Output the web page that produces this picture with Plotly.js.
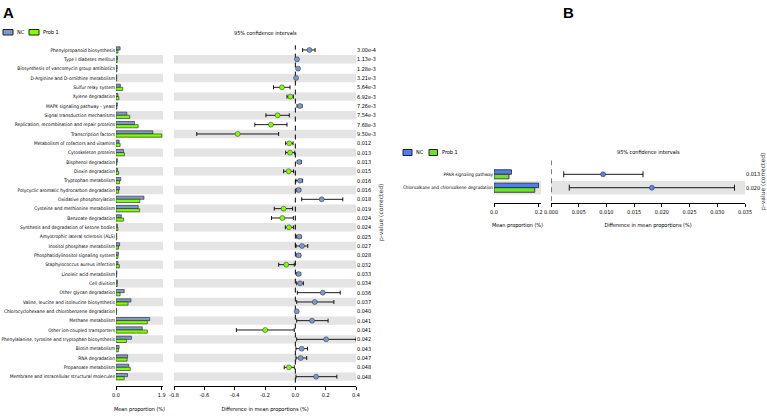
<!DOCTYPE html>
<html><head><meta charset="utf-8">
<script src="https://cdn.plot.ly/plotly-3.0.1.min.js"></script>
<style>html,body{margin:0;padding:0;background:#fff}#c{width:767px;height:417px}</style>
</head><body><div id="c"></div>
<script>
// ---------- Panel A data ----------
const seriesNames = ['NC', 'Prob 1'];
const labelsA = ['Phenylpropanoid biosynthesis','Type I diabetes mellitus','Biosynthesis of vancomycin group antibiotics','D-Arginine and D-ornithine metabolism','Sulfur relay system','Xylene degradation','MAPK signaling pathway - yeast','Signal transduction mechanisms','Replication, recombination and repair proteins','Transcription factors','Metabolism of cofactors and vitamins','Cytoskeleton proteins','Bisphenol degradation','Dioxin degradation','Tryptophan metabolism','Polycyclic aromatic hydrocarbon degradation','Oxidative phosphorylation','Cysteine and methionine metabolism','Benzoate degradation','Synthesis and degradation of ketone bodies','Amyotrophic lateral sclerosis (ALS)','Inositol phosphate metabolism','Phosphatidylinositol signaling system','Staphylococcus aureus infection','Linoleic acid metabolism','Cell division','Other glycan degradation','Valine, leucine and isoleucine biosynthesis','Chlorocyclohexane and chlorobenzene degradation','Methane metabolism','Other ion-coupled transporters','Phenylalanine, tyrosine and tryptophan biosynthesis','Biotin metabolism','RNA degradation','Propanoate metabolism','Membrane and intracellular structural molecules'];
const pvalA = ['3.00e-4','1.13e-3','1.28e-3','3.21e-3','5.64e-3','6.92e-3','7.26e-3','7.54e-3','7.68e-3','9.50e-3','0.012','0.013','0.013','0.015','0.016','0.016','0.018','0.019','0.024','0.024','0.025','0.027','0.028','0.032','0.033','0.034','0.036','0.037','0.040','0.041','0.041','0.042','0.043','0.047','0.048','0.048'];
const ncA    = [0.17,0.06,0.05,0.03,0.18,0.08,0.06,0.45,0.77,1.53,0.13,0.31,0.06,0.06,0.20,0.14,1.16,0.92,0.22,0.06,0.03,0.15,0.10,0.08,0.04,0.06,0.34,0.62,0.02,1.40,1.09,0.64,0.13,0.48,0.53,0.48];
const prob1A = [0.08,0.05,0.04,0.03,0.28,0.12,0.04,0.57,0.92,1.90,0.17,0.35,0.04,0.11,0.15,0.11,0.99,0.98,0.31,0.08,0.03,0.10,0.08,0.14,0.03,0.05,0.17,0.50,0.02,1.30,1.30,0.43,0.10,0.46,0.59,0.34];
const diffA  = [0.093,0.011,0.018,0.005,-0.088,-0.033,0.031,-0.117,-0.161,-0.380,-0.040,-0.035,0.026,-0.044,0.031,0.022,0.174,-0.077,-0.086,-0.042,0.026,0.044,0.022,-0.060,0.022,0.031,0.181,0.128,0.009,0.110,-0.199,0.203,0.042,0.035,-0.042,0.137];
const lowA   = [0.048,0.004,0.010,0.001,-0.144,-0.055,0.011,-0.194,-0.267,-0.650,-0.064,-0.064,0.013,-0.077,0.004,0.009,0.042,-0.139,-0.157,-0.066,0.009,0.004,0.009,-0.110,0.009,0.009,0.013,0.009,0.002,0.009,-0.389,0.009,0.004,0.004,-0.073,0.004];
const highA  = [0.130,0.018,0.026,0.009,-0.035,-0.013,0.044,-0.040,-0.055,-0.110,-0.015,-0.004,0.040,-0.011,0.048,0.035,0.313,-0.018,-0.013,-0.011,0.038,0.082,0.035,-0.007,0.035,0.053,0.296,0.254,0.015,0.216,-0.007,0.400,0.080,0.075,-0.007,0.274];
const barTicksA = [0, 1.9], barTickTextA = ['0.0','1.9'];
const ciTicksA = [-0.8,-0.6,-0.4,-0.2,0.0,0.2,0.4], ciTickTextA = ['-0.8','-0.6','-0.4','-0.2','0.0','0.2','0.4'];

// ---------- Panel B data ----------
const labelsB = ['PPAR signaling pathway','Chloroalkane and chloroalkene degradation'];
const pvalB = ['0.013','0.020'];
const ncB = [0.078, 0.199];
const prob1B = [0.067, 0.182];
const diffB = [0.0094, 0.0182];
const lowB = [0.0023, 0.0033];
const highB = [0.0166, 0.0331];
const barTicksB = [0, 0.2], barTickTextB = ['0.0','0.2'];
const ciTicksB = [0,0.005,0.010,0.015,0.020,0.025,0.030,0.035];
const ciTickTextB = ['0.000','0.005','0.010','0.015','0.020','0.025','0.030','0.035'];

// ---------- styling ----------
const W = 767, H = 417;
const fx = p => p / W, fy = p => 1 - p / H;
const F = 'Liberation Sans Narrow, DejaVu Sans Condensed, Liberation Sans, sans-serif';
const colA = ['#7d99cc', '#7fff00'];
const colB = ['#4f80ea', '#6be32a'];
const idxA = labelsA.map((_, i) => i);
const idxB = labelsB.map((_, i) => i);

const traces = [];
[ncA, prob1A].forEach((vals, k) => traces.push({
  type:'bar', orientation:'h', x: vals, y: idxA, name: seriesNames[k], xaxis:'x', yaxis:'y',
  marker:{color: colA[k], line:{color:'#222', width:0.6}}, hoverinfo:'x'
}));
traces.push({
  type:'scatter', mode:'markers', x: diffA, y: idxA, xaxis:'x2', yaxis:'y2',
  marker:{symbol:'circle', size:5, color: diffA.map(d => d >= 0 ? colA[0] : colA[1]), line:{color:'#333', width:0.5}},
  error_x:{type:'data', symmetric:false, array: highA.map((h,i)=>h-diffA[i]), arrayminus: lowA.map((l,i)=>diffA[i]-l), color:'#000', thickness:0.9, width:2}
});
[ncB, prob1B].forEach((vals, k) => traces.push({
  type:'bar', orientation:'h', x: vals, y: idxB, name: seriesNames[k], xaxis:'x3', yaxis:'y3',
  marker:{color: colB[k], line:{color:'#222', width:0.8}}, hoverinfo:'x'
}));
traces.push({
  type:'scatter', mode:'markers', x: diffB, y: idxB, xaxis:'x4', yaxis:'y4',
  marker:{symbol:'circle', size:5, color: diffB.map(d => d >= 0 ? '#5b82e6' : colB[1]), line:{color:'#333', width:0.5}},
  error_x:{type:'data', symmetric:false, array: highB.map((h,i)=>h-diffB[i]), arrayminus: lowB.map((l,i)=>diffB[i]-l), color:'#000', thickness:0.9, width:3}
});

const xBase = {showgrid:false, zeroline:false, showline:true, linecolor:'#000', linewidth:1, ticks:'outside', ticklen:3, tickcolor:'#000', tickfont:{size:5.5, family:F}, fixedrange:true};
const yBase = {showgrid:false, zeroline:false, showline:false, ticks:'', tickfont:{size:5.5, family:F}, fixedrange:true};

const rowsA = [36, -0.5];
const domA = [fy(386), fy(45.3)];
const rowsB = [2.14, -0.5];
const domB = [fy(203), fy(167.6)];

const shapes = [];
idxA.filter(i => i % 2 === 1).forEach(i => {
  ['x','x2'].forEach((xa, j) => shapes.push({type:'rect', xref: xa+' domain', yref: j===0?'y':'y2', x0:0, x1:1, y0:i-0.45, y1:i+0.45, fillcolor:'#e4e4e4', line:{width:0}, layer:'below'}));
});
idxB.filter(i => i % 2 === 1).forEach(i => {
  ['x3','x4'].forEach((xa, j) => shapes.push({type:'rect', xref: xa+' domain', yref: j===0?'y3':'y4', x0:0, x1:1, y0:i-0.5, y1:i+0.5, fillcolor:'#e4e4e4', line:{width:0}, layer:'below'}));
});
shapes.push({type:'line', xref:'x2', yref:'y2 domain', x0:0, x1:0, y0:0.01, y1:1, line:{color:'#000', width:1, dash:'5px,4px'}, layer:'below'});
shapes.push({type:'line', xref:'x4', yref:'y4 domain', x0:0, x1:0, y0:0.05, y1:1.2, line:{color:'#000', width:1, dash:'5px,4px'}, layer:'below'});
const legA = [[3,13,29.5,35],[29,39,29.5,35]];
const legB = [[403,412,149.5,155.5],[429,437.5,149.5,155.5]];
legA.forEach((b,k)=>shapes.push({type:'rect', xref:'paper', yref:'paper', x0:fx(b[0]), x1:fx(b[1]), y0:fy(b[3]), y1:fy(b[2]), fillcolor:colA[k], line:{color:'#222', width:1}}));
legB.forEach((b,k)=>shapes.push({type:'rect', xref:'paper', yref:'paper', x0:fx(b[0]), x1:fx(b[1]), y0:fy(b[3]), y1:fy(b[2]), fillcolor:colB[k], line:{color:'#222', width:1}}));

const ann = (x, y, text, opts) => Object.assign({xref:'paper', yref:'paper', x: fx(x), y: fy(y), text, showarrow:false, font:{family:F, size:5.5, color:'#000'}, xanchor:'center', yanchor:'middle'}, opts||{});
const annotations = [
  ann(8, 12, '<b>A</b>', {font:{family:'Liberation Sans, Arial, sans-serif', size:15, color:'#000'}}),
  ann(568, 12, '<b>B</b>', {font:{family:'Liberation Sans, Arial, sans-serif', size:15, color:'#000'}}),
  ann(15, 32.5, seriesNames[0], {xanchor:'left'}),
  ann(41, 32.5, seriesNames[1], {xanchor:'left'}),
  ann(414, 152.5, seriesNames[0], {xanchor:'left'}),
  ann(440, 152.5, seriesNames[1], {xanchor:'left'}),
  ann(265, 33, '95% confidence intervals'),
  ann(648, 152, '95% confidence intervals'),
  ann(381, 213, 'p-value (corrected)', {textangle:-90, font:{family:'DejaVu Sans, sans-serif', size:6, color:'#333'}}),
  ann(763, 182, 'p-value (corrected)', {textangle:-90, font:{family:'DejaVu Sans, sans-serif', size:6, color:'#333'}})
];

const layout = {
  width: W, height: H, margin:{l:0, r:0, t:0, b:0, pad:0},
  paper_bgcolor:'#fff', plot_bgcolor:'rgba(0,0,0,0)', showlegend:false,
  barmode:'group', bargap:0.32, bargroupgap:0,
  font:{family:F, size:6, color:'#000'},
  xaxis: Object.assign({}, xBase, {domain:[fx(116), fx(163)], range:[0, 1.95], anchor:'y', tickvals:barTicksA, ticktext:barTickTextA, title:{text:'Mean proportion (%)', font:{size:5.5, family:F}, standoff:10}}),
  yaxis: Object.assign({}, yBase, {domain:domA, range:rowsA, anchor:'x', tickvals:idxA, ticktext:labelsA, tickfont:{size:4.8, family:F}}),
  xaxis2: Object.assign({}, xBase, {domain:[fx(174), fx(356)], range:[-0.8, 0.4], anchor:'y2', tickvals:ciTicksA, ticktext:ciTickTextA, title:{text:'Difference in mean proportions (%)', font:{size:5.5, family:F}, standoff:10}}),
  yaxis2: Object.assign({}, yBase, {domain:domA, range:rowsA, anchor:'x2', side:'right', tickvals:idxA, ticktext:pvalA}),
  xaxis3: Object.assign({}, xBase, {domain:[fx(494), fx(541)], range:[0, 0.21], anchor:'y3', tickvals:barTicksB, ticktext:barTickTextB, title:{text:'Mean proportion (%)', font:{size:5.5, family:F}, standoff:9}}),
  yaxis3: Object.assign({}, yBase, {domain:domB, range:rowsB, anchor:'x3', tickvals:idxB, ticktext:labelsB, tickfont:{size:4.6, family:F}}),
  xaxis4: Object.assign({}, xBase, {domain:[fx(551), fx(745)], range:[0, 0.035], anchor:'y4', tickvals:ciTicksB, ticktext:ciTickTextB, title:{text:'Difference in mean proportions (%)', font:{size:5.5, family:F}, standoff:9}}),
  yaxis4: Object.assign({}, yBase, {domain:domB, range:rowsB, anchor:'x4', side:'right', tickvals:idxB, ticktext:pvalB}),
  shapes, annotations
};
Plotly.newPlot('c', traces, layout, {staticPlot:true, displayModeBar:false});
</script></body></html>
